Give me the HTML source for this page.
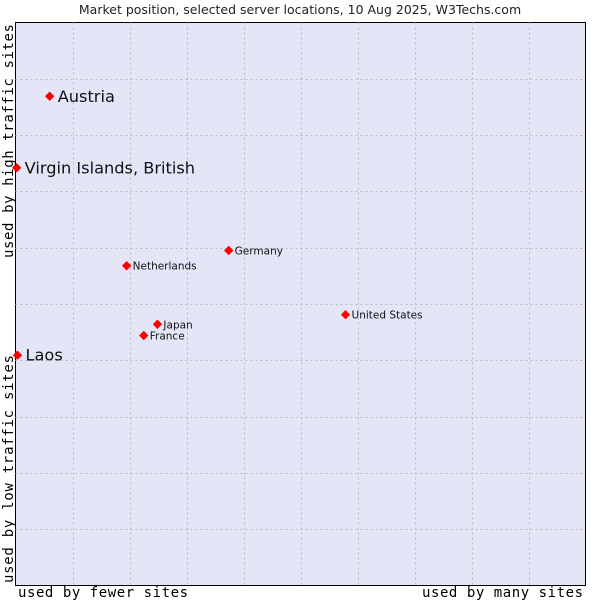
<!DOCTYPE html>
<html><head><meta charset="utf-8"><style>
body{margin:0;background:#fff;width:600px;height:600px;overflow:hidden}
svg{display:block;font-family:"DejaVu Sans","Liberation Sans",sans-serif}
</style></head><body>
<svg id="chart" width="600" height="600">
<text x="300" y="14" text-anchor="middle" font-size="12.5" fill="#222">Market position, selected server locations, 10 Aug 2025, W3Techs.com</text>
<rect x="15.5" y="22.5" width="570" height="563" fill="#e4e6f8" stroke="#000"/>
<g id="grid"></g>
<g id="points"></g>
<text x="18" y="597" textLength="170" lengthAdjust="spacing" font-family="DejaVu Sans Mono,Liberation Mono,monospace" font-size="14" fill="#000">used by fewer sites</text>
<text x="422" y="597" textLength="161" lengthAdjust="spacing" font-family="DejaVu Sans Mono,Liberation Mono,monospace" font-size="14" fill="#000">used by many sites</text>
<text transform="translate(13,583) rotate(-90)" textLength="228" lengthAdjust="spacing" font-family="DejaVu Sans Mono,Liberation Mono,monospace" font-size="14" fill="#000">used by low traffic sites</text>
<text transform="translate(13,258) rotate(-90)" textLength="234" lengthAdjust="spacing" font-family="DejaVu Sans Mono,Liberation Mono,monospace" font-size="14" fill="#000">used by high traffic sites</text>
</svg>
<script>
const names=["Austria","Virgin Islands, British","Laos","Germany","Netherlands","United States","Japan","France"];
const xVals=[6.0,0.2,0.35,37.4,19.5,57.9,24.9,22.5];
const yVals=[86.9,74.2,40.9,59.5,56.8,48.1,46.4,44.4];
const big=[true,true,true,false,false,false,false,false];
const NS="http://www.w3.org/2000/svg";
const L=15.5,T=22.5,W=570,H=563;
const sx=v=>L+v/100*W, sy=v=>T+H-v/100*H;
const grid=document.getElementById('grid');
for(let i=1;i<10;i++){
 const v=document.createElementNS(NS,'line');
 
 
 const x=Math.round(L+i*W/10)+0.5;
 v.setAttribute('x1',x);v.setAttribute('x2',x);v.setAttribute('y1',T);v.setAttribute('y2',T+H);
 v.setAttribute('stroke','#bbbbbb');v.setAttribute('stroke-dasharray','2,3');grid.appendChild(v);
 const h=document.createElementNS(NS,'line');
 
 
 const y=Math.round(T+i*H/10)+0.5;
 h.setAttribute('y1',y);h.setAttribute('y2',y);h.setAttribute('x1',L);h.setAttribute('x2',L+W);
 h.setAttribute('stroke','#bbbbbb');h.setAttribute('stroke-dasharray','2,3');grid.appendChild(h);
}
const pts=document.getElementById('points');
names.forEach((n,i)=>{
 const x=sx(xVals[i]),y=sy(yVals[i]);
 const c=document.createElementNS(NS,'path');
 
 
 c.setAttribute('d',`M${x-4},${y} L${x},${y-4} L${x+4},${y} L${x},${y+4} Z`);
 c.setAttribute('fill','#ff0000');c.setAttribute('stroke','#ff0000');c.setAttribute('stroke-linejoin','round');
 pts.appendChild(c);
 const t=document.createElementNS(NS,'text');
 
 
 t.setAttribute('x',x+(big[i]?8:6));t.setAttribute('y',y+(big[i]?5.5:4));
 t.setAttribute('font-size',big[i]?16.2:10.5);t.setAttribute('fill','#111');
 t.textContent=n;pts.appendChild(t);
});
</script>
</body></html>
